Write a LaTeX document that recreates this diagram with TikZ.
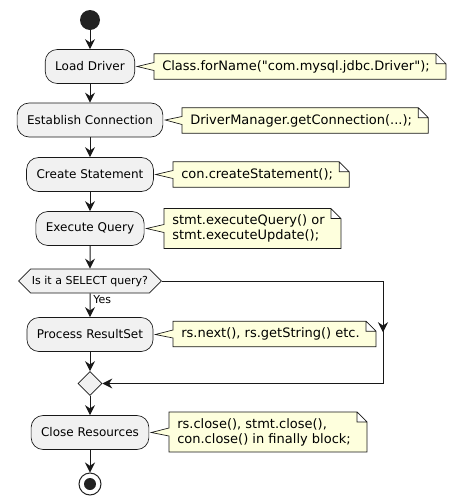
\documentclass[tikz,border=0pt]{standalone}
\usepackage{fontspec}
\setmainfont{DejaVu Sans}[Ligatures=TeXOff]
\usetikzlibrary{arrows.meta,calc,shapes.geometric,shapes.symbols,backgrounds}

\definecolor{boxfill}{HTML}{F1F1F1}
\definecolor{boxline}{HTML}{181818}
\definecolor{notefill}{HTML}{FEFFDD}
\definecolor{dotfill}{HTML}{222222}

\begin{document}
\begin{tikzpicture}[x=0.75pt,y=-0.75pt,
  action/.style={draw=boxline,line width=0.5pt,fill=boxfill,rounded corners=9pt,inner xsep=7.5pt,minimum height=25.5pt,font=\fontsize{9}{10.8}\selectfont},
  note/.style={anchor=west,inner xsep=6pt,inner ysep=4.5pt,minimum height=18.75pt,align=left,font=\fontsize{9.75}{11.25}\selectfont},
  notebody/.style={draw=boxline,line width=0.5pt,fill=notefill},
  decision/.style={signal,signal to=east and west,signal from=nowhere,signal pointer angle=90,draw=boxline,line width=0.5pt,fill=boxfill,inner xsep=1pt,inner ysep=0pt,minimum height=18pt,font=\fontsize{8.25}{9.9}\selectfont},
  flow/.style={draw=boxline,line width=0.75pt,-{Stealth[length=7.5pt,width=7.5pt,inset=2.5pt]}},
  wire/.style={draw=boxline,line width=0.75pt}]
\useasboundingbox (0,0) rectangle (454,504);

% start and end
\node[circle,fill=dotfill,minimum size=15pt,inner sep=0pt] (start) at (90,20) {};
\node[circle,draw=dotfill,line width=0.75pt,fill=white,minimum size=16.5pt,inner sep=0pt] (end) at (90,484) {};
\node[circle,fill=dotfill,minimum size=9pt,inner sep=0pt] (endin) at (end) {};

% actions
\node[action] (load) at (90,66.5) {Load Driver};
\node[action] (conn) at (90,120) {Establish Connection};
\node[action] (stmt) at (90,174.5) {Create Statement};
\node[action] (exec) at (90,228.5) {Execute Query};
\node[decision] (sel) at (90,281) {Is it a SELECT query?};
\node[action] (proc) at (90,334.5) {Process ResultSet};
\node[diamond,draw=boxline,line width=0.5pt,fill=boxfill,minimum size=18pt,inner sep=0pt] (merge) at (90,383.5) {};
\node[action] (close) at (90,432.5) {Close Resources};

% notes
\node[note] (n1) at (154,66.5) {Class.forName("com.mysql.jdbc.Driver");};
\node[note] (n2) at (182,120.5) {DriverManager.getConnection(...);};
\node[note] (n3) at (173,174.5) {con.createStatement();};
\node[note] (n4) at (164,228.5) {stmt.executeQuery() or\\stmt.executeUpdate();};
\node[note] (n5) at (173,334) {rs.next(), rs.getString() etc.};
\node[note] (n6) at (169,432) {rs.close(), stmt.close(),\\con.close() in finally block;};

\begin{scope}[on background layer]
\foreach \nt/\bx in {n1/load,n2/conn,n3/stmt,n4/exec,n5/proc,n6/close}
  \filldraw[notebody] (\nt.north west) -- ($(\nt.north east)+(-2,0)$) -- ($(\nt.north east)+(8,10)$)
    -- ($(\nt.south east)+(8,0)$) -- (\nt.south west) -- ($(\nt.west)+(0,4)$)
    -- ($(\bx.east)+(2,0)$) -- ($(\nt.west)+(0,-4)$) -- cycle
    ($(\nt.north east)+(-2,0)$) -- ($(\nt.north east)+(-2,10)$) -- ($(\nt.north east)+(8,10)$);
\end{scope}

% connectors
\draw[flow] (start) -- (load);
\draw[flow] (load) -- (conn);
\draw[flow] (conn) -- (stmt);
\draw[flow] (stmt) -- (exec);
\draw[flow] (exec) -- (sel);
\draw[flow] (sel) -- (proc);
\node[anchor=north west,inner sep=1.5pt,font=\fontsize{8.25}{9.9}\selectfont] (yes) at ($(sel.south)+(1,0)$) {Yes};
\draw[flow] (proc) -- (merge);
\draw[flow] (merge) -- (close);
\draw[flow] (close) -- (end);

\coordinate (elbowtop) at (383,281);
\coordinate (elbowbot) at (383,383.5);
\draw[wire] (sel.east) -- (elbowtop) -- (elbowbot);
\draw[flow] (elbowtop) -- ($(elbowtop)!0.5!(elbowbot)$);
\draw[flow] (elbowbot) -- (merge.east);
\end{tikzpicture}
\end{document}
